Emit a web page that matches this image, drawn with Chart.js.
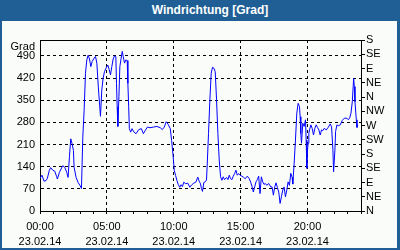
<!DOCTYPE html>
<html>
<head>
<meta charset="utf-8">
<script src="https://cdn.jsdelivr.net/npm/chart.js@4.4.0/dist/chart.umd.min.js"></script>
<style>
  html, body { margin: 0; padding: 0; background: #ffffff; }
  #box { position: relative; width: 400px; height: 250px; background: #1f5f95; overflow: hidden; }
  #title {
    position: absolute; left: 150px; width: 120px; top: 3px; text-align: center;
    font: bold 12px "Liberation Sans", Arial, sans-serif; color: #ffffff; white-space: nowrap;
  }
  #panel { position: absolute; left: 2px; top: 21px; width: 395px; height: 227px; background: #fafcfa; }
  canvas { position: absolute; left: 0; top: 0; }
</style>
</head>
<body>
<div id="box">
  <div id="title">Windrichtung [Grad]</div>
  <div id="panel"></div>
  <canvas id="chart" width="400" height="250"></canvas>
</div>
<script>
// wind direction readings, 23.02.14 (hours since midnight -> degrees)
const hours = [
  0.00, 0.15, 0.30, 0.45, 0.55, 0.70, 0.80, 0.95, 1.10, 1.25, 1.30, 1.45, 1.70, 1.85,
  2.00, 2.10, 2.20, 2.30, 2.40, 2.50, 2.55, 2.70, 2.85, 3.00, 3.10, 3.20, 3.30, 3.40,
  3.50, 3.60, 3.70, 3.80, 3.90, 4.05, 4.15, 4.25, 4.36, 4.46, 4.52, 4.62, 4.72, 4.82,
  4.97, 5.07, 5.17, 5.27, 5.37, 5.47, 5.57, 5.67, 5.72, 5.77, 5.82, 5.90, 5.97, 6.07,
  6.15, 6.22, 6.32, 6.42, 6.52, 6.57, 6.63, 6.68, 6.78, 6.88, 7.03, 7.18, 7.38, 7.58,
  7.73, 7.88, 8.03, 8.23, 8.48, 8.74, 8.99, 9.14, 9.29, 9.44, 9.59, 9.74, 9.84, 9.94,
  10.04, 10.14, 10.24, 10.34, 10.45, 10.55, 10.65, 10.75, 10.90, 11.05, 11.20, 11.35,
  11.50, 11.65, 11.80, 11.90, 12.00, 12.07, 12.15, 12.25, 12.35, 12.45, 12.50, 12.60,
  12.70, 12.80, 12.90, 13.00, 13.10, 13.20, 13.30, 13.40, 13.50, 13.60, 13.70, 13.80,
  13.95, 14.05, 14.15, 14.25, 14.35, 14.45, 14.55, 14.65, 14.75, 14.85, 14.95, 15.10,
  15.20, 15.35, 15.50, 15.65, 15.75, 15.85, 15.95, 16.05, 16.15, 16.25, 16.35, 16.45,
  16.55, 16.65, 16.75, 16.85, 16.95, 17.10, 17.25, 17.35, 17.45, 17.55, 17.65, 17.75,
  17.85, 17.95, 18.05, 18.15, 18.25, 18.35, 18.45, 18.55, 18.65, 18.75, 18.85, 18.90,
  19.00, 19.10, 19.20, 19.30, 19.40, 19.45, 19.50, 19.55, 19.65, 19.75, 19.85, 19.90,
  19.95, 20.00, 20.05, 20.10, 20.15, 20.25, 20.35, 20.45, 20.55, 20.65, 20.75, 20.85,
  20.95, 21.05, 21.15, 21.25, 21.40, 21.55, 21.70, 21.80, 21.90, 21.95, 22.05, 22.10,
  22.20, 22.30, 22.45, 22.60, 22.75, 22.95, 23.05, 23.15, 23.25, 23.35, 23.45, 23.50,
  23.55, 23.65, 23.70, 23.75
];
const degrees = [
  103, 113, 94, 96, 103, 129, 137, 129, 126, 108, 101, 122, 143, 138,
  122, 106, 171, 228, 212, 191, 138, 106, 90, 80, 71, 233, 318, 435,
  477, 492, 480, 456, 472, 483, 488, 467, 392, 334, 299, 382, 419, 440,
  454, 461, 447, 430, 456, 480, 490, 488, 403, 329, 267, 361, 456, 483,
  504, 488, 467, 477, 475, 403, 329, 260, 249, 260, 249, 244, 257, 260,
  244, 255, 265, 263, 265, 267, 263, 257, 265, 282, 273, 260, 223, 180,
  128, 112, 96, 83, 75, 83, 77, 91, 86, 88, 75, 83,
  88, 91, 107, 94, 86, 71, 62, 90, 92, 98, 145, 245,
  351, 435, 454, 451, 440, 351, 245, 161, 108, 97, 108, 99,
  106, 99, 113, 102, 99, 110, 118, 129, 113, 118, 113, 110,
  107, 102, 110, 102, 91, 78, 60, 76, 92, 99, 110, 55,
  108, 92, 84, 87, 81, 87, 76, 76, 50, 76, 89, 74,
  60, 24, 45, 66, 76, 45, 66, 92, 81, 119, 106, 85,
  150, 224, 309, 340, 330, 298, 245, 214, 277, 267, 288, 224,
  135, 193, 214, 245, 256, 272, 261, 240, 261, 272, 264, 256,
  240, 256, 254, 261, 256, 264, 275, 266, 193, 124, 193, 251,
  272, 269, 272, 286, 293, 293, 288, 293, 309, 345, 419, 393,
  345, 288, 264, 272
];

const timeLabels = ["00:00", "05:00", "10:00", "15:00", "20:00"];
const dateLabel = "23.02.14";
const compass = ["N", "NE", "E", "SE", "S", "SW", "W", "NW", "N", "NE", "E", "SE", "S"];
const unitLabel = "Grad";

const FONT = { family: "'Liberation Sans', Arial, sans-serif", size: 11 };

// top edge of the plot box (the axes draw the other three sides) + unit label
const topEdge = {
  id: "topEdge",
  afterDraw(chart) {
    const { ctx, chartArea } = chart;
    const y = Math.round(chartArea.top) + 0.5;
    ctx.save();
    ctx.strokeStyle = "#000";
    ctx.lineWidth = 1;
    ctx.beginPath();
    ctx.moveTo(chartArea.left, y);
    ctx.lineTo(chartArea.right, y);
    ctx.stroke();
    ctx.fillStyle = "#000";
    ctx.font = "11px 'Liberation Sans', Arial, sans-serif";
    ctx.textAlign = "right";
    ctx.textBaseline = "middle";
    ctx.fillText(unitLabel, chartArea.left - 5, chartArea.top + 7);
    ctx.restore();
  },
};

new Chart(document.getElementById("chart"), {
  type: "line",
  data: {
    datasets: [{
      data: hours.map((h, i) => ({ x: h, y: degrees[i] })),
      borderColor: "#0000ff",
      borderWidth: 1,
      pointRadius: 0,
      tension: 0,
      fill: false,
    }],
  },
  options: {
    responsive: false,
    devicePixelRatio: 1,
    animation: false,
    layout: { padding: { top: 40, left: 0, right: 0, bottom: 0 } },
    plugins: { legend: { display: false }, tooltip: { enabled: false } },
    scales: {
      x: {
        type: "linear",
        min: 0,
        max: 24,
        afterFit: (s) => { s.height = 39; },
        ticks: {
          stepSize: 1,
          autoSkip: false,
          maxRotation: 0,
          padding: 5,
          color: "#000",
          font: { ...FONT, lineHeight: 15 / 11 },
          callback: (v) => (v % 5 === 0 ? [timeLabels[v / 5], dateLabel] : ""),
        },
        grid: {
          color: (c) => (c.tick && c.tick.value % 5 === 0 && c.tick.value > 0 ? "#000" : "rgba(0,0,0,0)"),
          tickColor: "#000",
          tickLength: 3,
          lineWidth: 1,
        },
        border: { color: "#000", dash: [3, 3] },
      },
      y: {
        position: "left",
        min: 0,
        max: 540,
        afterFit: (s) => { s.width = 40; },
        ticks: {
          stepSize: 70,
          autoSkip: false,
          padding: 5,
          color: "#000",
          font: FONT,
          callback: (v) => (v > 490 ? "" : v),
        },
        grid: {
          color: (c) => (c.tick && c.tick.value > 0 && c.tick.value < 540 ? "#000" : "rgba(0,0,0,0)"),
          drawTicks: false,
        },
        border: { color: "#000", dash: [3, 3] },
      },
      y2: {
        position: "right",
        min: 0,
        max: 540,
        afterFit: (s) => { s.width = 39; },
        ticks: {
          stepSize: 45,
          autoSkip: false,
          padding: 1,
          color: "#000",
          font: FONT,
          callback: (v) => compass[Math.round(v / 45)],
        },
        grid: { drawOnChartArea: false, tickColor: "#000", tickLength: 4 },
        border: { color: "#000" },
      },
    },
  },
  plugins: [topEdge],
});
</script>
</body>
</html>
